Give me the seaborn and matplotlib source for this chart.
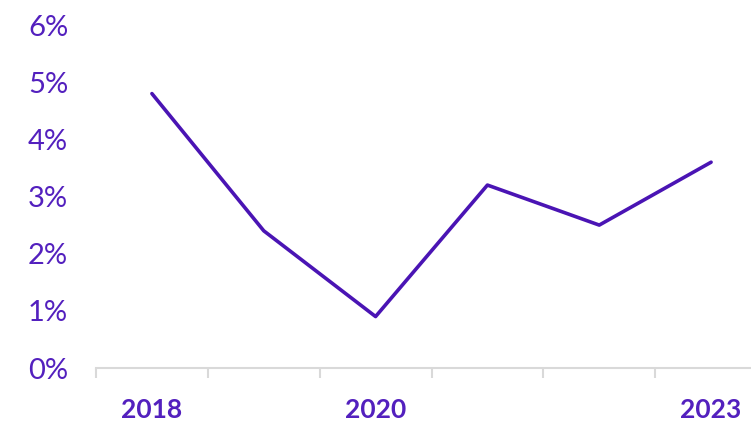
import matplotlib
matplotlib.use("Agg")
import matplotlib.pyplot as plt
import seaborn as sns
import pandas as pd
import numpy as np

years = [2018, 2019, 2020, 2021, 2022, 2023]
rates = [4.8, 2.4, 0.9, 3.2, 2.5, 3.6]
y_ticks = [0, 1, 2, 3, 4, 5, 6]
x_labels = [2018, 2020, 2023]

purple = "#4A14B4"
label_purple = "#5320BE"
grid_grey = "#d9d9d9"

sns.set_theme(style="white")
plt.rcParams["font.family"] = ["Lato", "DejaVu Sans"]

df = pd.DataFrame({"year": years, "rate": rates})

fig = plt.figure(figsize=(7.51, 4.23), dpi=100)
ax = fig.add_axes([96 / 751, 55 / 423, (767 - 96) / 751, (368 - 25) / 423])

sns.lineplot(data=df, x="year", y="rate", color=purple, linewidth=2.6, ax=ax,
             solid_capstyle="round", clip_on=False)

ax.set_xlim(years[0] - 0.5, years[-1] + 0.5)
ax.set_ylim(0, 6)

ax.set_yticks(y_ticks)
ax.set_yticklabels([f"{v}%" for v in y_ticks], fontsize=21, color=label_purple)
ax.tick_params(axis="y", length=0, pad=20)

ax.set_xticks(x_labels)
ax.set_xticklabels([str(v) for v in x_labels], fontsize=19, fontweight="bold",
                   color=label_purple)
ax.set_xticks(np.arange(years[0] - 0.5, years[-1] + 1.0, 1.0), minor=True)
ax.tick_params(axis="x", which="major", bottom=True, length=0, pad=21.5)
ax.tick_params(axis="x", which="minor", bottom=True, length=7, width=1.5,
               color=grid_grey, direction="out")

for side in ["top", "right", "left"]:
    ax.spines[side].set_visible(False)
ax.spines["bottom"].set_color(grid_grey)
ax.spines["bottom"].set_linewidth(1.5)

ax.set_xlabel("")
ax.set_ylabel("")

fig.savefig("out.png", dpi=100)
